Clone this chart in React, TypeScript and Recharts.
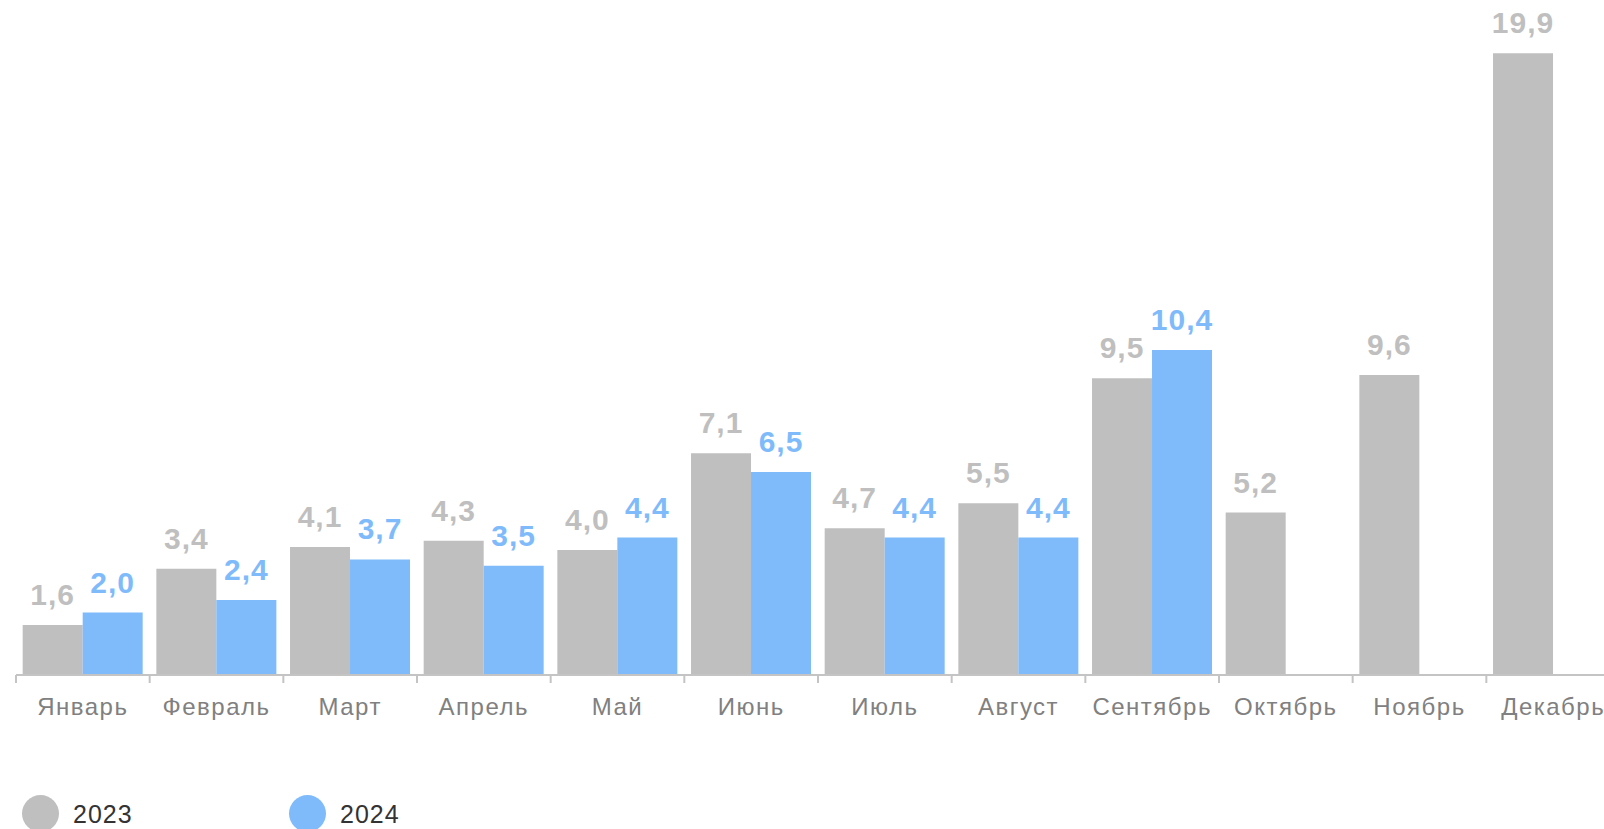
import { BarChart, Bar, XAxis, YAxis, LabelList } from "recharts";

const months = [
  "Январь", "Февраль", "Март", "Апрель", "Май", "Июнь",
  "Июль", "Август", "Сентябрь", "Октябрь", "Ноябрь", "Декабрь",
];
const values2023 = [1.6, 3.4, 4.1, 4.3, 4.0, 7.1, 4.7, 5.5, 9.5, 5.2, 9.6, 19.9];
const values2024: (number | null)[] = [2.0, 2.4, 3.7, 3.5, 4.4, 6.5, 4.4, 4.4, 10.4, null, null, null];

const GRAY = "#bfbfbf";
const BLUE = "#7fbbfa";
const AXIS = "#c4c4c4";
const FONT = "'Liberation Sans', Arial, sans-serif";

const PLOT_W = 1604;
const BAND = PLOT_W / months.length;
const TICK_SIZE = 8;
const TICK_MARGIN = 15;

const data = months.map((m, i) => ({ month: m, y2023: values2023[i], y2024: values2024[i] }));

const fmt = (v: unknown) => (v == null ? "" : Number(v).toFixed(1).replace(".", ","));

// tick marks sit between the groups, labels stay centred
const MonthTick = (props: any) => {
  const { x, y, payload } = props;
  const axisY = y - TICK_SIZE - TICK_MARGIN;
  const bx = x - BAND / 2;
  return (
    <g>
      <line x1={bx} x2={bx} y1={axisY} y2={axisY + TICK_SIZE} stroke={AXIS} strokeWidth={2} />
      <text
        x={x}
        y={y}
        dy="0.71em"
        textAnchor="middle"
        fill="#808080"
        fontSize={24}
        letterSpacing={1.5}
        fontFamily={FONT}
      >
        {payload.value}
      </text>
    </g>
  );
};

const legendItems = [
  { label: "2023", color: GRAY, left: 22 },
  { label: "2024", color: BLUE, left: 289 },
];

export default function App() {
  return (
    <div
      style={{
        position: "absolute", left: 0, top: 0, width: 1604, height: 829,
        overflow: "hidden", fontFamily: FONT, background: "#fff",
      }}
    >
      <BarChart
        width={1640}
        height={735}
        data={data}
        margin={{ top: 50, right: 20, left: 16, bottom: 0 }}
        barCategoryGap="5%"
        barGap={0}
      >
        <XAxis
          dataKey="month"
          height={60}
          tickSize={TICK_SIZE}
          tickMargin={TICK_MARGIN}
          tickLine={false}
          stroke={AXIS}
          strokeWidth={2}
          tick={<MonthTick />}
          interval={0}
        />
        <YAxis hide domain={[0, 20]} />
        <Bar dataKey="y2023" fill={GRAY} isAnimationActive={false}>
          <LabelList
            dataKey="y2023"
            position="top"
            offset={20}
            formatter={fmt}
            fill={GRAY}
            style={{ fontSize: 30, fontWeight: 700, fontFamily: FONT, letterSpacing: 1 }}
          />
        </Bar>
        <Bar dataKey="y2024" fill={BLUE} isAnimationActive={false}>
          <LabelList
            dataKey="y2024"
            position="top"
            offset={20}
            formatter={fmt}
            fill={BLUE}
            style={{ fontSize: 30, fontWeight: 700, fontFamily: FONT, letterSpacing: 1 }}
          />
        </Bar>
      </BarChart>
      {legendItems.map(it => (
        <div key={it.label}>
          <span
            style={{
              position: "absolute", top: 795, left: it.left, width: 37, height: 37,
              borderRadius: "50%", background: it.color,
            }}
          />
          <span
            style={{
              position: "absolute", top: 800, left: it.left + 51, fontSize: 25,
              color: "#333", letterSpacing: 1, lineHeight: "normal",
            }}
          >
            {it.label}
          </span>
        </div>
      ))}
    </div>
  );
}
